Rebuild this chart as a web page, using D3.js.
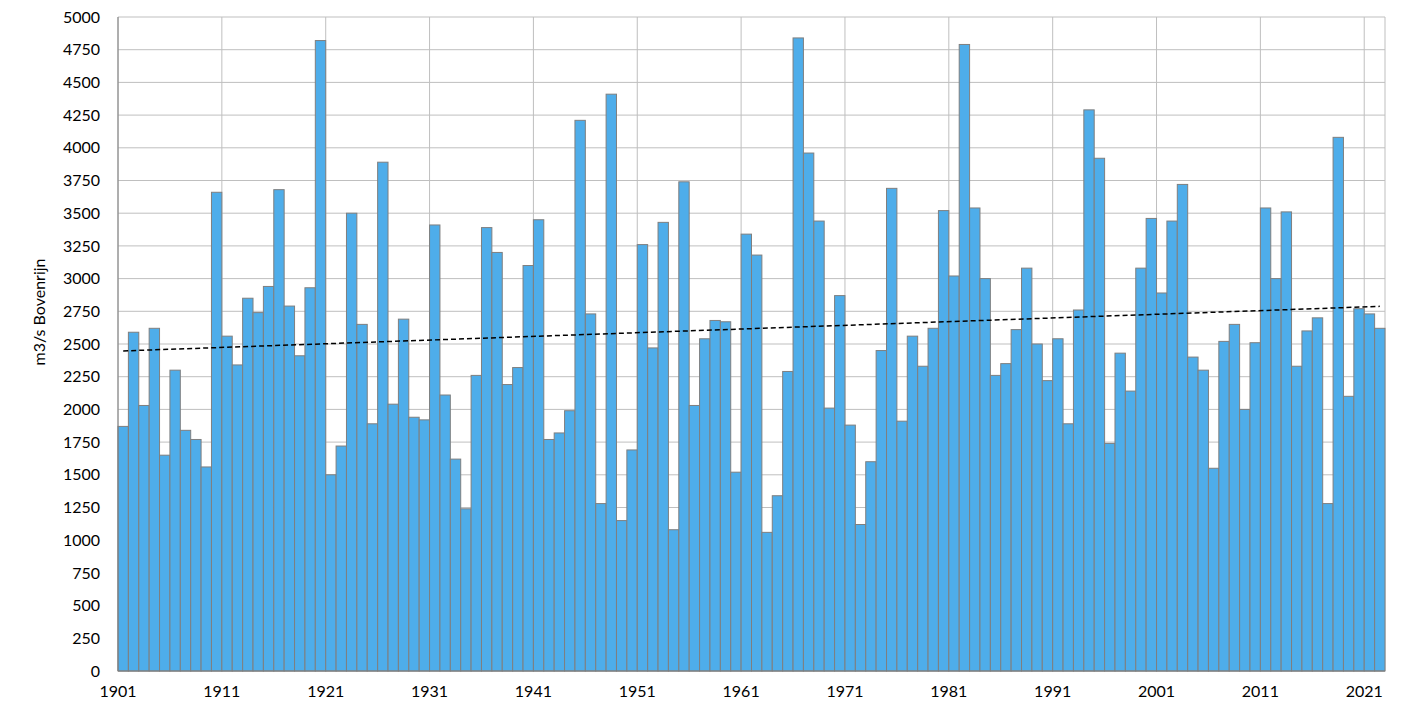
<!DOCTYPE html>
<html><head><meta charset="utf-8">
<script src="https://cdn.jsdelivr.net/npm/d3@7"></script>
<style>body{margin:0;background:#fff}svg{display:block}</style>
</head><body><svg id="chart" width="1416" height="718"></svg>
<script>
// yearly peak discharge, first year of the series
const firstYear = 1901;
const discharge = [
  1870,2590,2030,2620,1650,2300,1840,1770,1560,3660,
  2560,2340,2850,2740,2940,3680,2790,2410,2930,4820,
  1500,1720,3500,2650,1890,3890,2040,2690,1940,1920,
  3410,2110,1620,1240,2260,3390,3200,2190,2320,3100,
  3450,1770,1820,1990,4210,2730,1280,4410,1150,1690,
  3260,2470,3430,1080,3740,2030,2540,2680,2670,1520,
  3340,3180,1060,1340,2290,4840,3960,3440,2010,2870,
  1880,1120,1600,2450,3690,1910,2560,2330,2620,3520,
  3020,4790,3540,3000,2260,2350,2610,3080,2500,2220,
  2540,1890,2760,4290,3920,1740,2430,2140,3080,3460,
  2890,3440,3720,2400,2300,1550,2520,2650,2000,2510,
  3540,3000,3510,2330,2600,2700,1280,4080,2100,2770,
  2730,2620
];
const years = discharge.map((d, i) => firstYear + i);
const xTickYears = d3.range(1901, 2022, 10);
const yTicks = d3.range(0, 5001, 250);

const svg = d3.select("#chart");
const m = {left: 118, right: 1385, top: 17, bottom: 671};
const font = "Lato, 'Open Sans', sans-serif";

const x = d3.scaleLinear().domain([firstYear, firstYear + years.length]).range([m.left, m.right]);
const y = d3.scaleLinear().domain([0, 5000]).range([m.bottom, m.top]);

// grid
svg.append("g").selectAll("line").data(yTicks).join("line")
  .attr("x1", m.left).attr("x2", m.right)
  .attr("y1", d => y(d)).attr("y2", d => y(d))
  .attr("stroke", "#bfbfbf").attr("stroke-width", 1);
svg.append("g").selectAll("line").data(xTickYears).join("line")
  .attr("x1", d => x(d)).attr("x2", d => x(d))
  .attr("y1", m.top).attr("y2", m.bottom)
  .attr("stroke", "#bfbfbf").attr("stroke-width", 1);
svg.append("line").attr("x1", m.right).attr("x2", m.right)
  .attr("y1", m.top).attr("y2", m.bottom).attr("stroke", "#bfbfbf");

// bars
const bw = x(firstYear + 1) - x(firstYear);
svg.append("g").selectAll("rect").data(discharge).join("rect")
  .attr("x", (d, i) => x(years[i]))
  .attr("width", bw)
  .attr("y", d => y(d))
  .attr("height", d => y(0) - y(d))
  .attr("fill", "#4eadea")
  .attr("stroke", "#7f7f7f").attr("stroke-width", 1);

// linear trend (least squares)
const n = discharge.length;
const mx = d3.mean(years), my = d3.mean(discharge);
const slope = d3.sum(years, (t, i) => (t - mx) * (discharge[i] - my)) / d3.sum(years, t => (t - mx) ** 2);
const trend = t => my + slope * (t - mx);
svg.append("line")
  .attr("x1", x(firstYear + 0.5)).attr("y1", y(trend(firstYear)))
  .attr("x2", x(years[n - 1] + 0.5)).attr("y2", y(trend(years[n - 1])))
  .attr("stroke", "#000").attr("stroke-width", 1.5).attr("stroke-dasharray", "5,3");

// axes lines
svg.append("line").attr("x1", m.left).attr("x2", m.right)
  .attr("y1", m.bottom).attr("y2", m.bottom).attr("stroke", "#7f7f7f");
svg.append("line").attr("x1", m.left).attr("x2", m.left)
  .attr("y1", m.top).attr("y2", m.bottom).attr("stroke", "#7f7f7f");

// tick labels
svg.append("g").selectAll("text").data(yTicks).join("text")
  .attr("x", 100).attr("y", d => y(d)).attr("dy", "0.35em")
  .attr("text-anchor", "end").attr("font-family", font).attr("font-size", 16)
  .text(d => d);
svg.append("g").selectAll("text").data(xTickYears).join("text")
  .attr("x", d => x(d)).attr("y", 697)
  .attr("text-anchor", "middle").attr("font-family", font).attr("font-size", 16)
  .text(d => d);

svg.append("text")
  .attr("transform", "translate(45,312) rotate(-90)")
  .attr("text-anchor", "middle").attr("font-family", font).attr("font-size", 16)
  .text("m3/s Bovenrijn");
</script></body></html>
